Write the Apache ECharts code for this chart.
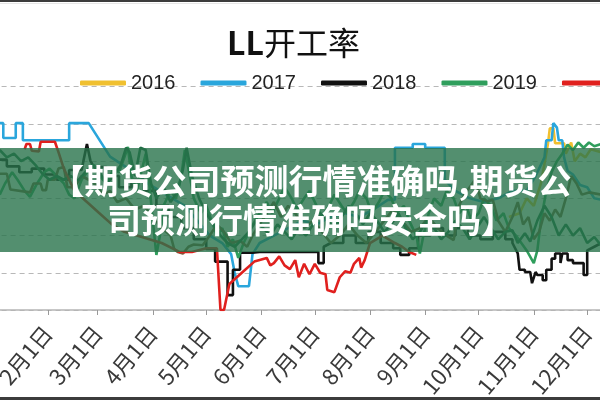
<!DOCTYPE html>
<html><head><meta charset="utf-8">
<script src="https://cdn.jsdelivr.net/npm/echarts@6/dist/echarts.min.js"></script>
<style>html,body{margin:0;padding:0;background:#fff}#c{width:600px;height:400px}</style>
</head><body><div id="c"></div>
<script>
// x-axis: days of the year, labels shown at the first day of each month
const monthDays = [31,28,31,30,31,30,31,31,30,31,30,31];
const monthTickLabels = ['1月1日','2月1日','3月1日','4月1日','5月1日','6月1日','7月1日','8月1日','9月1日','10月1日','11月1日','12月1日'];
const legendNames = ['2016','2017','2018','2019','2020','2021','2022'];
const lineColors = ['#f0c030','#2aa6dc','#111111','#2f9e5c','#e0201e','#7a5a3a','#1d6b42'];

// [day-of-year index, value]
const s2016 = [[290,82.5],[296,83],[300,85],[304,84],[308,87],[311,91],[312,92.4],[313,94.4],[315,94.4],[316,92.4],[321,92.4],[322,91],[325,92.5],[327,90],[330,91],[333,90.5],[336,91.6],[342,91.2]];
const s2017 = [[4,95.1],[6,95.1],[6,93.1],[13,93.1],[13,95.1],[17,95.1],[17,92.8],[43,92.8],[43,95.1],[54,95.1],[66,90.6],[73,89.5],[80,88.5],[87,87],[94,86],[101,85],[108,84],[115,82],[122,80],[129,79],[134,77.5],[136,75],[138,73.2],[144,73.2],[146,77.5],[150,79],[158,80],[166,81],[174,82],[182,81.5],[190,82.5],[198,83],[206,82.5],[214,83.5],[222,84.8],[226,84.8],[226,91.8],[236,91.8],[236,92.3],[243,92.3],[243,91.8],[254,91.8],[254,87.5],[260,86],[268,85],[276,84.5],[284,85],[292,86],[300,86],[305,88],[310,90.5],[311,92.8],[314,92.8],[315,95.1],[317,94.5],[318,92.8],[320,92.8],[321,90.5],[323,88.7],[326,88.2],[330,86.8],[334,86.5],[338,85],[342,84.8]];
const s2018 = [[4,90.2],[8,90.2],[8,89.3],[15,89.3],[15,88.5],[22,88.5],[22,89],[29,89],[29,88.2],[36,88.2],[36,87.5],[43,87.5],[43,88.8],[50,88.8],[51,90],[53,92.3],[55,90],[57,89.2],[64,89.2],[64,88],[71,88],[71,86.5],[78,86.5],[78,87.5],[85,87.5],[85,86],[92,86],[92,84],[99,84],[99,82.5],[106,82.5],[106,81],[113,81],[113,79.5],[120,79.5],[120,78.2],[125,78.2],[125,76.5],[132,76.5],[132,72.0],[135,72.0],[135,75.4],[139,75.4],[139,77.7],[146,77.7],[150,77.8],[183,77.8],[183,76.3],[186,76.3],[186,78.5],[190,79],[197,79],[197,80],[204,80],[204,79],[211,79],[211,80.5],[218,80.5],[218,79],[225,79],[225,78.3],[229,78.3],[229,77.4],[234,77.4],[234,78.3],[239,78.3],[239,80],[246,80],[246,81],[253,81],[253,80],[260,80],[260,81],[267,81],[267,80],[274,80],[274,79.5],[281,79.5],[281,80.5],[288,80.5],[288,79.5],[292,79.5],[292,79.0],[295,77.6],[296,75.4],[299,75.4],[299,75.1],[302,75.1],[303,73.6],[304,73.6],[305,75.1],[306,75.1],[306,74.7],[309,74.7],[309,74.0],[311,74.0],[311,75.4],[314,75.4],[314,76.9],[316,76.9],[316,77.6],[319,77.6],[319,76.3],[320,76.3],[320,77.6],[323,77.6],[323,76.7],[326,76.7],[326,76.3],[332,76.3],[332,74.7],[334,74.7],[334,78.0],[338,78.5],[342,79]];
const s2019 = [[4,85.5],[7,87],[11,88.5],[14,87.5],[18,86],[21,85.2],[25,87],[29,88.5],[32,89],[36,88],[40,87],[43,85.5],[46,85],[50,87.5],[53,88.5],[57,89.5],[60,88],[64,87],[68,89],[71,88.5],[74,90.5],[76,91.9],[78,88],[81,86],[84,89],[86,91],[88,87],[90,82],[92,77.4],[94,80],[96,84],[100,86],[103,85],[106,88],[108,91.5],[110,89],[113,85],[117,83],[120,84],[123,82],[126,80],[129,81],[132,78.5],[135,79.5],[138,77],[141,79],[145,81],[150,83],[154,84.5],[157,83],[161,85],[164,86.5],[168,85],[171,83.5],[175,85],[178,86],[182,84],[185,82.5],[189,84],[192,85.5],[196,84],[199,83],[203,84.5],[206,86],[210,85],[213,83],[217,84.5],[220,86],[224,85],[227,83],[231,84],[234,82],[238,80],[240,77.6],[242,80],[245,83],[248,85],[252,84],[255,86],[259,85],[262,83],[266,84],[269,82],[273,83],[276,85],[280,84],[283,82],[287,83],[290,81],[294,80],[297,79],[300,78],[304,76.3],[306,78],[308,82],[311,86],[314,88.5],[317,90],[320,91],[323,92.2],[326,91.5],[329,92.5],[332,91.8],[335,92.5],[338,92],[342,92.3]];
const s2020 = [[18,91.6],[19,92.3],[21,92.3],[22,91.4],[26,91.3],[27,92.6],[35,92.6],[37,91.2],[40,89],[46,86],[53,84.5],[60,83],[67,81.5],[74,80.5],[81,80],[88,79.5],[95,79],[105,77.8],[112,77.8],[120,78.3],[126,78.3],[128,70.0],[130,70.0],[133,73.5],[140,75.0],[147,76.5],[154,77.0],[156,76.0],[158,76.3],[161,77.2],[164,76.0],[167,75.5],[170,76.7],[172,74.4],[175,76.2],[178,74.8],[181,76.2],[184,75],[187,74.8],[188,72.7],[192,72.4],[195,74.4],[198,75.2],[201,75.0],[203,76.2],[206,77.0],[207,75.7],[209,76.7],[212,79],[219,80],[226,79],[230,78.5],[234,77.8],[238,77.4]];
const s2021 = [[4,88.3],[8,88.3],[10,86.2],[21,85.8],[23,87],[27,87],[28,86.1],[30,86.1],[31,87.5],[35,87.5],[37,89],[40,89.2],[42,86.5],[46,86.5],[50,88],[54,87.5],[58,86.8],[62,85.5],[66,86],[70,84.5],[75,85],[80,83.5],[85,84],[90,82.5],[95,81],[100,80],[102,78.2],[104,77.8],[107,77.6],[110,78.5],[113,78.8],[118,78.7],[122,80],[126,81.5],[130,80.5],[134,79],[139,79.3],[143,78.5],[146,80],[150,81.5],[154,83],[158,84.5],[162,82.5],[166,84],[170,83],[175,81],[180,82],[185,80.5],[190,79],[195,80],[200,81.5],[205,80],[210,79],[215,80.5],[220,82],[225,83.5],[230,82],[235,80.5],[240,81],[245,82.5],[250,81],[255,80],[259,79.4],[262,84],[265,85.5],[268,86.5],[271,87.5],[274,85],[278,84.6],[281,84.8],[284,82],[288,80.5],[292,82.5],[295,84.5],[298,81.5],[301,82.5],[304,79.5],[307,80.5],[310,83],[313,82],[316,83.5],[319,82.5],[322,85],[325,88],[328,87],[331,85.5],[335,85.8],[342,85.5]];
const s2022 = [[4,91.5],[8,90.5],[12,91],[16,90],[20,90.5],[24,89.5],[28,88.3],[32,87.5],[36,88],[40,87.5],[44,88],[48,87.4],[52,88.5],[56,89.5],[60,88.5],[64,87],[68,88],[72,89.5],[75,91.8],[77,91.2],[80,88],[83,91.8],[86,91.5],[89,87],[92,85],[96,86.5],[100,84.5],[104,86],[107,89],[109,91.8],[112,88],[116,85],[120,83],[124,81.5],[128,80],[132,79],[136,78.5],[140,79.5],[144,80.5],[148,82],[152,81],[156,80],[160,81.5],[164,80.5],[168,79.5],[172,81],[176,80],[180,81.5],[184,83],[188,82],[192,81],[196,82.5],[200,84],[204,83],[208,81.5],[212,83],[216,82],[220,80.5],[224,81.5],[228,83],[232,81],[236,79.5],[240,80.5],[244,82],[248,81],[252,79.5],[256,80.5],[260,82],[264,81],[268,79.5],[272,81],[276,82.5],[280,81],[284,79.5],[288,80.5],[292,80.7],[295,79],[299,80.3],[302,79.2],[306,82],[310,84],[314,82.5],[318,80],[322,81.5],[326,80],[330,81],[334,79],[338,79.8],[342,78.6]];
const seriesData = [s2016, s2017, s2018, s2019, s2020, s2021, s2022];

const bannerLines = ['【期货公司预测行情准确吗,期货公', '司预测行情准确吗安全吗】'];

const days = [];
monthDays.forEach((n, m) => { for (let d = 1; d <= n; d++) days.push((m + 1) + '月' + d + '日'); });
const isMonthStart = (i) => i > 0 && monthTickLabels.indexOf(days[i]) >= 0;

const chart = echarts.init(document.getElementById('c'), null, {renderer: 'canvas'});
chart.setOption({
  backgroundColor: '#ffffff',
  animation: false,
  title: {
    text: '{a|LL}{b|开工率}',
    left: 222, top: 22,
    textStyle: {
      rich: {
        a: {fontFamily: 'Noto Sans CJK SC', fontWeight: 'bold', fontSize: 32, color: '#111'},
        b: {fontFamily: 'Noto Sans CJK SC', fontWeight: 'normal', fontSize: 32, color: '#111'}
      }
    }
  },
  legend: {
    left: 75, top: 68, width: 1400,
    itemWidth: 46, itemHeight: 5, itemGap: 25, itemTextGap: 4,
    icon: 'roundRect',
    data: legendNames,
    textStyle: {fontFamily: '"Liberation Sans", Arial, sans-serif', fontSize: 20, color: '#222'}
  },
  grid: {left: -7.4, width: 648, top: 86.7, height: 223.3, containLabel: false, outerBoundsMode: 'none'},
  xAxis: {
    type: 'category', data: days, boundaryGap: false,
    axisLine: {lineStyle: {color: '#b5b5b5', width: 1.5}},
    axisTick: {show: true, interval: isMonthStart, length: 5, lineStyle: {color: '#999'}},
    axisLabel: {interval: isMonthStart, rotate: 50, margin: 19, fontSize: 22, color: '#3a3a3a',
      fontFamily: 'Noto Sans CJK SC'},
    splitLine: {show: false}
  },
  yAxis: {
    type: 'value', min: 70, max: 100, interval: 5,
    axisLine: {show: false}, axisTick: {show: false}, axisLabel: {show: false},
    splitLine: {lineStyle: {color: '#b8b8b8', type: [5, 4], width: 1}}
  },
  series: seriesData.map((d, i) => ({
    name: legendNames[i], type: 'line', data: d, symbol: 'none',
    lineStyle: {width: 2.6, color: lineColors[i]}, itemStyle: {color: lineColors[i]},
    z: i === 4 ? 3 : 2
  })),
  graphic: [
    {type: 'rect', shape: {x: 0, y: 148, width: 600, height: 104}, style: {fill: 'rgba(40,115,75,0.8)'}, z: 100},
    {type: 'text', x: 311, y: 181, z: 101, style: {text: bannerLines[0], fill: '#fff', font: 'bold 34px "Noto Sans CJK SC"', align: 'center', verticalAlign: 'middle'}},
    {type: 'text', x: 311, y: 220, z: 101, style: {text: bannerLines[1], fill: '#fff', font: 'bold 34px "Noto Sans CJK SC"', align: 'center', verticalAlign: 'middle'}},
    {type: 'rect', shape: {x: 0, y: 0, width: 600, height: 2}, style: {fill: '#3c3c3c'}, z: 100},
    {type: 'rect', shape: {x: 0, y: 3, width: 600, height: 1}, style: {fill: '#e6e6e6'}, z: 100},
    {type: 'rect', shape: {x: 0, y: 397, width: 600, height: 3}, style: {fill: '#3c3c3c'}, z: 100}
  ]
});
</script></body></html>
